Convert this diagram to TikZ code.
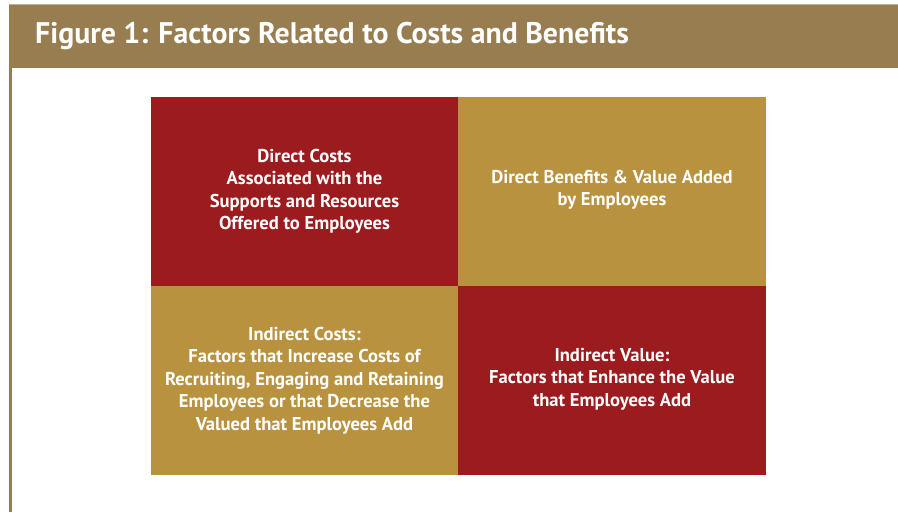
\documentclass[tikz,border=0pt]{standalone}
\usepackage{fontspec}
\setmainfont{PT Sans}
\definecolor{hdr}{HTML}{977D50}
\definecolor{cred}{HTML}{9B1B1F}
\definecolor{cgold}{HTML}{B8923F}
\tikzset{
  celltext/.style={text=white, font=\bfseries\fontsize{18.6}{22.5}\selectfont, align=center},
  cell/.style={inner sep=0pt, outer sep=0pt}
}
\begin{document}
\begin{tikzpicture}[x=1pt,y=1pt]
\useasboundingbox (0,0) rectangle (898,512);
\fill[white] (0,0) rectangle (898,512);
% header
\fill[hdr] (9,444) rectangle (898,507);
\fill[hdr!60!white] (9,507) rectangle (898,508);
\fill[hdr] (9,0) rectangle (12,444);
\node[anchor=west, text=white, font=\bfseries\fontsize{29.8}{34}\selectfont, inner sep=0pt] (title) at (35,475.5) {Figure 1: Factors Related to Costs and Benefits};
% cells
\fill[cred] (151,226) rectangle (458,415);
\fill[cgold] (458,226) rectangle (766,415);
\fill[cgold] (151,37) rectangle (458,226);
\fill[cred] (458,37) rectangle (766,226);
\node[celltext] (tl) at (304.5,320.5) {Direct Costs\\Associated with the\\Supports and Resources\\Offered to Employees};
\node[celltext] (tr) at (612,322) {Direct Benefits \& Value Added\\by Employees};
\node[celltext] (bl) at (304.5,131.5) {Indirect Costs:\\Factors that Increase Costs of\\Recruiting, Engaging and Retaining\\Employees or that Decrease the\\Valued that Employees Add};
\node[celltext] (br) at (612,133) {Indirect Value:\\Factors that Enhance the Value\\that Employees Add};
\end{tikzpicture}
\end{document}
